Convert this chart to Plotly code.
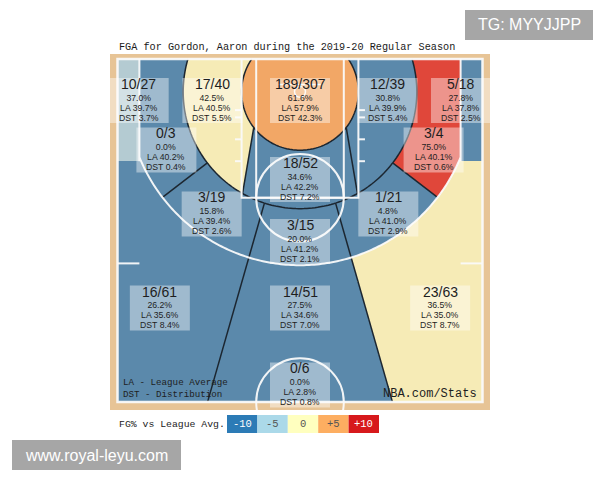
import numpy as np
import plotly.graph_objects as go

# ---------------- data ----------------
TITLE = "FGA for Gordon, Aaron during the 2019-20 Regular Season"
ZONE_NAMES = [
    "Left Corner 3", "Mid-Range Left 8-16", "Restricted Area", "Mid-Range Right 8-16",
    "Right Corner 3", "Mid-Range Left Baseline 16-24", "Mid-Range Right Baseline 16-24",
    "Center 8-16", "Mid-Range Left Wing 16-24", "Mid-Range Right Wing 16-24",
    "Mid-Range Center 16-24", "Above Break 3 Left", "Above Break 3 Center",
    "Above Break 3 Right", "Backcourt",
]
FGM = [10, 17, 189, 12, 5, 0, 3, 18, 3, 1, 3, 16, 14, 23, 0]
FGA = [27, 40, 307, 39, 18, 3, 4, 52, 19, 21, 15, 61, 51, 63, 6]
LEAGUE_AVG = [39.7, 40.5, 57.9, 39.9, 37.8, 40.2, 40.1, 42.2, 39.4, 41.0, 41.2, 35.6, 34.6, 35.0, 2.8]
LEGEND_LABELS = ["-10", "-5", "0", "+5", "+10"]

# ---------------- layout constants (feet: x across, y from baseline) ----------------
LABEL_X = [-22.1, -12.0, 0.0, 12.0, 22.05, -18.3, 18.3, 0.0, -12.1, 12.1, 0.0, -19.2, 0.0, 19.2, 0.0]
LABEL_Y = [3.56, 3.56, 3.56, 3.56, 3.56, 10.34, 10.34, 14.38, 19.1, 19.1, 22.88, 31.99, 31.99, 31.99, 42.53]

PX = 7.3  # pixels per foot
W, H = 600, 480
ML, MR, MT, MB = 110, 110, 54, 70
BASKET_Y = 4.5
R_RA, R_MID, R_3 = 8.0, 16.0, 23.75
CORNER_X, CORNER_Y = 22.0, 14.0
WING_DEG = 37.5
CENTER_K, CENTER_Y0 = 0.286, 2.7
SPLIT_P, SPLIT_K = (6.16, 8.36), 0.17   # 8-16 ft side/center split: |x| = px + k*(y-py)

COURT_COLORS = ["#5b89ab", "#b4cbd2", "#f6ebb6", "#f2a766", "#e0473a"]
LEGEND_COLORS = ["#2c7bb6", "#abd9e9", "#ffffbf", "#fdae61", "#d7191c"]
LEGEND_TEXT = ["white", "#555555", "#555555", "#555555", "white"]
WOOD = "#e7c496"
WHITE_LINE = "rgba(250,250,250,0.95)"
DARK_LINE = "#1c2630"

# ---------------- derived values ----------------
total = sum(FGA)
pct = [100.0 * m / a for m, a in zip(FGM, FGA)]
dst = [100.0 * a / total for a in FGA]
diff = [p - la for p, la in zip(pct, LEAGUE_AVG)]


def color_bin(d):
    if d <= -5:
        return 0
    if d <= -2.5:
        return 1
    if d < 2.5:
        return 2
    if d < 5:
        return 3
    return 4


zone_bin = [color_bin(d) for d in diff]

# ---------------- zone raster ----------------
h = 0.125
xs = np.arange(-25 + h / 2, 25, h)
ys = np.arange(h / 2, 47, h)
X, Y = np.meshgrid(xs, ys)
AX = np.abs(X)
R = np.hypot(X, Y - BASKET_Y)
right = X > 0
center16 = AX < SPLIT_P[0] + SPLIT_K * (Y - SPLIT_P[1])
centerL = AX < CENTER_K * (Y - CENTER_Y0)
phi = np.degrees(np.arctan2(Y - BASKET_Y, AX))
corner = (AX >= CORNER_X) & (Y < CORNER_Y)
atb = (~corner) & ((R >= R_3) | (AX >= CORNER_X))
three = corner | atb

zone = np.full(X.shape, 14)
ra = R < R_RA
ring = (~ra) & (R < R_MID) & (~three)
mid = (~ra) & (~ring) & (~three)
zone[ring & center16] = 7
zone[ring & ~center16 & ~right] = 1
zone[ring & ~center16 & right] = 3
zone[mid & centerL] = 10
zone[mid & ~centerL & (phi >= WING_DEG) & ~right] = 8
zone[mid & ~centerL & (phi >= WING_DEG) & right] = 9
zone[mid & ~centerL & (phi < WING_DEG) & ~right] = 5
zone[mid & ~centerL & (phi < WING_DEG) & right] = 6
zone[corner & ~right] = 0
zone[corner & right] = 4
zone[atb & centerL] = 12
zone[atb & ~centerL & ~right] = 11
zone[atb & ~centerL & right] = 13
zone[ra] = 2

Z = np.array(zone_bin)[zone].astype(float)
cs = []
for i, c in enumerate(COURT_COLORS):
    cs.append([i / 5, c])
    cs.append([(i + 1) / 5, c])

fig = go.Figure()
fig.add_trace(go.Heatmap(x=xs, y=ys, z=Z, colorscale=cs, zmin=-0.5, zmax=4.5,
                         showscale=False, hoverinfo="skip", zsmooth=False))

shapes = []


def pth(px, py, close=False):
    s = "M " + " L ".join(f"{a:.3f},{b:.3f}" for a, b in zip(px, py))
    return s + (" Z" if close else "")


def line_shape(path, color, width):
    shapes.append(dict(type="path", path=path, xref="x", yref="y",
                       line=dict(color=color, width=width), layer="above"))


def arc(cx, cy, r, t0, t1, n=160):
    t = np.linspace(t0, t1, n)
    return cx + r * np.cos(t), cy + r * np.sin(t)


def line_circle_y(fx, r, ylo, yhi):
    """first y in [ylo, yhi] where the point (fx(y), y) reaches distance r from the basket"""
    yy = np.linspace(ylo, yhi, 20001)
    rr = np.hypot(fx(yy), yy - BASKET_Y)
    return yy[np.argmax(rr >= r)]


# dark zone boundaries
t0 = np.arcsin(BASKET_Y / R_RA)
ax_, ay_ = arc(0, BASKET_Y, R_RA, -t0, np.pi + t0)
line_shape(pth(ax_, ay_), DARK_LINE, 1.5)
t0 = np.arcsin(BASKET_Y / R_MID)
ax_, ay_ = arc(0, BASKET_Y, R_MID, -t0, np.pi + t0)
line_shape(pth(ax_, ay_), DARK_LINE, 1.5)


def split_x(y):
    return SPLIT_P[0] + SPLIT_K * (y - SPLIT_P[1])


def center_x(y):
    return CENTER_K * (y - CENTER_Y0)


ys0 = line_circle_y(split_x, R_RA, BASKET_Y, 30)
ys1 = line_circle_y(split_x, R_MID, BASKET_Y, 30)
yc0 = line_circle_y(center_x, R_MID, 12, 47)
for s in (-1, 1):
    line_shape(pth([s * split_x(ys0), s * split_x(ys1)], [ys0, ys1]), DARK_LINE, 1.5)
    a = np.radians(WING_DEG)
    line_shape(pth([s * R_MID * np.cos(a), s * R_3 * np.cos(a)],
                   [BASKET_Y + R_MID * np.sin(a), BASKET_Y + R_3 * np.sin(a)]), DARK_LINE, 1.5)
    line_shape(pth([s * center_x(yc0), s * center_x(47)], [yc0, 47]), DARK_LINE, 1.5)

# white court lines
shapes.append(dict(type="rect", xref="x", yref="y", x0=-25, y0=0, x1=25, y1=47,
                   line=dict(color=WHITE_LINE, width=2.5), layer="above"))
for hw in (8, 6):
    line_shape(pth([-hw, -hw, hw, hw], [0, 19, 19, 0]), WHITE_LINE, 2)
shapes.append(dict(type="circle", xref="x", yref="y", x0=-6, y0=13, x1=6, y1=25,
                   line=dict(color=WHITE_LINE, width=2), layer="above"))
tc = np.arccos(CORNER_X / R_3)
ax_, ay_ = arc(0, BASKET_Y, R_3, tc, np.pi - tc)
line_shape(pth([CORNER_X, CORNER_X] + list(ax_) + [-CORNER_X, -CORNER_X],
               [0, CORNER_Y] + list(ay_) + [CORNER_Y, 0]), WHITE_LINE, 2)
shapes.append(dict(type="circle", xref="x", yref="y", x0=-6, y0=41, x1=6, y1=53,
                   line=dict(color=WHITE_LINE, width=2), layer="above"))
for s in (-1, 1):
    line_shape(pth([s * 25, s * 22], [28, 28]), WHITE_LINE, 2)
    for hy in (7, 8, 11, 14):
        line_shape(pth([s * 8, s * 8.9], [hy, hy]), WHITE_LINE, 2)
shapes.append(dict(type="circle", xref="x", yref="y", x0=-0.75, y0=BASKET_Y - 0.75,
                   x1=0.75, y1=BASKET_Y + 0.75, line=dict(color=WHITE_LINE, width=1.5), layer="above"))
line_shape(pth([-3, 3], [3.5, 3.5]), WHITE_LINE, 1.5)

# label boxes and text
annotations = []
SMALL = 8.7
PITCH = 10.0
BASE = PITCH / 1.3  # base font so that the line pitch is PITCH px
for i in range(len(ZONE_NAMES)):
    x, y = LABEL_X[i], LABEL_Y[i]
    shapes.append(dict(type="rect", xref="x", yref="y",
                       x0=x - 30 / PX, x1=x + 30 / PX, y0=y - 7 / PX, y1=y + 38 / PX,
                       fillcolor="rgba(255,255,255,0.42)", line=dict(width=0), layer="above"))
    annotations.append(dict(x=x, y=y - 1.0 / PX, xref="x", yref="y", text=f"{FGM[i]}/{FGA[i]}",
                            showarrow=False, xanchor="center", yanchor="middle",
                            font=dict(family="Liberation Sans, Arial", size=14, color="#1e1e1e")))
    small = [f"{pct[i]:.1f}%", f"LA {LEAGUE_AVG[i]:.1f}%", f"DST {dst[i]:.1f}%"]
    txt = "<br>".join(f"<span style='font-size:{SMALL}px'>{t}</span>" for t in small)
    annotations.append(dict(x=x, y=y + 22.8 / PX, xref="x", yref="y", text=txt,
                            showarrow=False, xanchor="center", yanchor="middle",
                            font=dict(family="Liberation Sans, Arial", size=BASE, color="#1e1e1e")))


def pxx(p):
    return (p - ML) / (W - ML - MR)


def pxy(p):
    return (H - MB - p) / (H - MT - MB)


# title
annotations.append(dict(x=pxx(117), y=pxy(47), xref="paper", yref="paper", text=TITLE,
                        showarrow=False, xanchor="left", yanchor="middle",
                        font=dict(family="Liberation Mono", size=10.2, color="#1a1a1a")))
# court notes
annotations.append(dict(x=pxx(121), y=pxy(388), xref="paper", yref="paper",
                        text="LA - League Average<br>DST - Distribution",
                        showarrow=False, xanchor="left", yanchor="middle", align="left",
                        font=dict(family="Liberation Mono", size=9.2, color="#1e1e1e")))
annotations.append(dict(x=pxx(479), y=pxy(394), xref="paper", yref="paper", text="NBA.com/Stats",
                        showarrow=False, xanchor="right", yanchor="middle",
                        font=dict(family="Liberation Mono", size=12, color="#1e1e1e")))
# legend
annotations.append(dict(x=pxx(117), y=pxy(424), xref="paper", yref="paper", text="FG% vs League Avg.",
                        showarrow=False, xanchor="left", yanchor="middle",
                        font=dict(family="Liberation Mono", size=9.8, color="#222222")))
for i, lab in enumerate(LEGEND_LABELS):
    x0 = 227 + i * 30.4
    shapes.append(dict(type="rect", xref="paper", yref="paper", x0=pxx(x0), x1=pxx(x0 + 30.4),
                       y0=pxy(433), y1=pxy(415), fillcolor=LEGEND_COLORS[i], line=dict(width=0)))
    annotations.append(dict(x=pxx(x0 + 15.2), y=pxy(424), xref="paper", yref="paper", text=lab,
                            showarrow=False, xanchor="center", yanchor="middle",
                            font=dict(family="Liberation Mono", size=10.5, color=LEGEND_TEXT[i])))
# watermarks
for (x0, x1, y0, y1, txt) in [(465, 593, 10, 40, "TG: MYYJJPP"), (12, 181, 440, 470, "www.royal-leyu.com")]:
    shapes.append(dict(type="rect", xref="paper", yref="paper", x0=pxx(x0), x1=pxx(x1),
                       y0=pxy(y1), y1=pxy(y0), fillcolor="#a6a6a6", line=dict(width=0)))
    annotations.append(dict(x=pxx((x0 + x1) / 2), y=pxy((y0 + y1) / 2), xref="paper", yref="paper",
                            text=txt, showarrow=False, xanchor="center", yanchor="middle",
                            font=dict(family="Liberation Sans, Arial", size=16, color="white")))

fig.update_layout(
    width=W, height=H, margin=dict(l=ML, r=MR, t=MT, b=MB),
    paper_bgcolor="white", plot_bgcolor=WOOD,
    xaxis=dict(range=[-(300 - ML) / PX, (W - MR - 300) / PX], visible=False, fixedrange=True),
    yaxis=dict(range=[(H - MB - 59) / PX, (MT - 59) / PX], visible=False, fixedrange=True),
    shapes=shapes, annotations=annotations, showlegend=False,
)
fig.write_html("out.html")
